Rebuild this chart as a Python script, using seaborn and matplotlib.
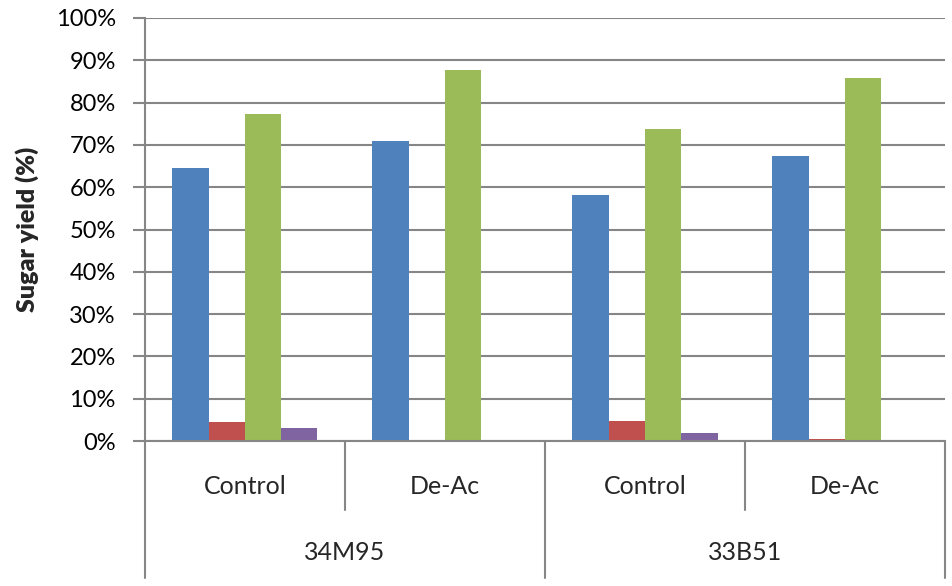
import matplotlib
matplotlib.use("Agg")
import matplotlib.pyplot as plt
import matplotlib.transforms as mtransforms
from matplotlib.ticker import PercentFormatter
import seaborn as sns
import pandas as pd

# ---- data ----
varieties = ["34M95", "34M95", "33B51", "33B51"]
treatments = ["Control", "De-Ac", "Control", "De-Ac"]
series_names = ["S1", "S2", "S3", "S4"]
s1_values = [0.645, 0.709, 0.582, 0.674]
s2_values = [0.045, 0.0, 0.047, 0.005]
s3_values = [0.772, 0.877, 0.738, 0.858]
s4_values = [0.031, 0.0, 0.020, 0.0]
colors = ["#4F81BD", "#C0504D", "#9BBB59", "#8064A2"]
y_label = "Sugar yield (%)"

groups = [f"{v}|{t}" for v, t in zip(varieties, treatments)]
rows = []
for name, vals in zip(series_names, [s1_values, s2_values, s3_values, s4_values]):
    for g, v in zip(groups, vals):
        rows.append({"group": g, "series": name, "value": v})
df = pd.DataFrame(rows)

sns.set_style("white")
plt.rcParams["font.family"] = ["Lato", "DejaVu Sans"]

fig = plt.figure(figsize=(9.53, 5.86), dpi=100)
ax = fig.add_axes([145 / 953, 1 - 441 / 586, 800 / 953, (441 - 18) / 586])

sns.barplot(data=df, x="group", y="value", hue="series", order=groups,
            hue_order=series_names, palette=colors, width=0.725, gap=0,
            saturation=1, legend=False, ax=ax, linewidth=0, errorbar=None)

grid_c = "#868686"
ax.set_ylim(0, 1.0)
ax.set_xlim(-0.5, 3.5)
ax.set_yticks([i / 10 for i in range(11)])
ax.yaxis.set_major_formatter(PercentFormatter(1.0, decimals=0))
ax.yaxis.grid(True, color=grid_c, linewidth=1.5)
ax.set_axisbelow(True)
for s in ["top", "right", "bottom"]:
    ax.spines[s].set_visible(False)
ax.spines["left"].set_color(grid_c)
ax.spines["left"].set_linewidth(1.5)
ax.tick_params(axis="y", which="major", left=True, length=9, width=1.5,
               color=grid_c, labelsize=17, pad=12, labelcolor="black")
ax.set_xticks([])
ax.set_xlabel("")
ax.set_ylabel(y_label, fontsize=18, fontweight="heavy", labelpad=12)

# multi-level category axis
trans = mtransforms.blended_transform_factory(ax.transData, ax.transAxes)
h = (441 - 18)  # axes height px
def yfrac(py):
    return -(py - 441) / h

ax.plot([-0.5, 3.5], [0, 0], transform=trans, color=grid_c, lw=1.5, clip_on=False)
for x in [-0.5, 1.5, 3.5]:
    ax.plot([x, x], [0, yfrac(578)], transform=trans, color=grid_c, lw=1.5, clip_on=False)
for x in [0.5, 2.5]:
    ax.plot([x, x], [0, yfrac(510)], transform=trans, color=grid_c, lw=1.5, clip_on=False)
for i, t in enumerate(treatments):
    ax.text(i, yfrac(487), t, transform=trans, ha="center", va="center", fontsize=18)
for i, v in enumerate(["34M95", "33B51"]):
    ax.text(0.5 + 2 * i, yfrac(553), v, transform=trans, ha="center", va="center", fontsize=18)

fig.savefig("out.png", dpi=100)
